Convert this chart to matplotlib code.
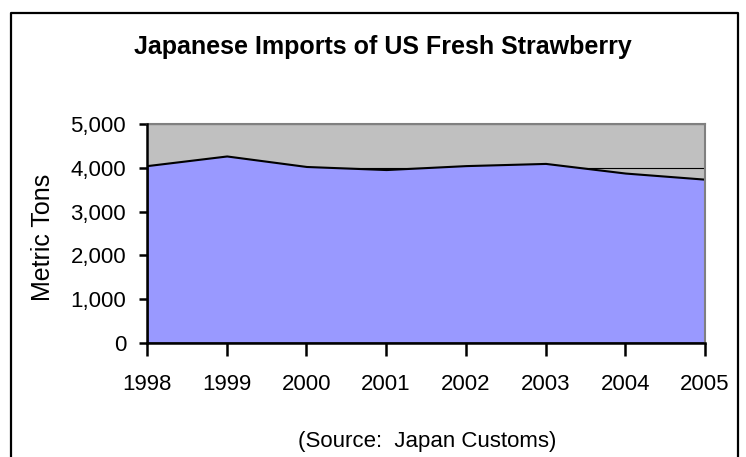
import matplotlib
matplotlib.use("Agg")
import matplotlib.pyplot as plt
from matplotlib.lines import Line2D
from matplotlib.ticker import FuncFormatter, MultipleLocator

years = [1998, 1999, 2000, 2001, 2002, 2003, 2004, 2005]
imports = [4050, 4270, 4030, 3960, 4050, 4100, 3880, 3740]
title = "Japanese Imports of US Fresh Strawberry"
ylabel = "Metric Tons"
source = "(Source:  Japan Customs)"

plt.rcParams['font.family'] = ['Liberation Sans', 'DejaVu Sans']

W, H = 746, 457
fig = plt.figure(figsize=(W / 100, H / 100), dpi=100)
fig.patch.set_facecolor('white')

ax = fig.add_axes([147 / W, 1 - 343 / H, (705 - 147) / W, (343 - 124) / H])
ax.set_facecolor('#C0C0C0')

ax.fill_between(years, imports, 0, facecolor='#9999FF', edgecolor='black',
                linewidth=1.5, zorder=2)
ax.set_xlim(years[0], years[-1])
ax.set_ylim(0, 5000)
ax.yaxis.set_major_locator(MultipleLocator(1000))
ax.yaxis.set_major_formatter(FuncFormatter(lambda v, p: f"{int(v):,}"))
ax.set_xticks(years)
ax.set_xticklabels([str(y) for y in years])
ax.grid(axis='y', color='black', linewidth=0.8, zorder=1)
ax.set_axisbelow(True)

for s in ['left', 'bottom']:
    ax.spines[s].set_color('black')
    ax.spines[s].set_linewidth(1.8)
    ax.spines[s].set_zorder(5)
for s in ['top', 'right']:
    ax.spines[s].set_color('#808080')
    ax.spines[s].set_linewidth(1.5)

ax.tick_params(axis='x', direction='out', length=9, width=1.8, labelsize=16, pad=13)
ax.tick_params(axis='y', direction='out', length=6, width=1.8, labelsize=16, pad=9)

fig.text(43 / W, 1 - 237 / H, ylabel, rotation=90, ha='center', va='center',
         fontsize=18)
fig.text(383 / W, 1 - 54 / H, title, ha='center', va='baseline',
         fontsize=18, fontweight='bold')
fig.text(427 / W, 1 - 447 / H, source, ha='center', va='baseline', fontsize=16)

# chart border (left, top, right)
bx0, bx1, by0 = 11 / W, 738 / W, 1 - 13 / H
fig.add_artist(Line2D([bx0, bx0, bx1, bx1], [0, by0, by0, 0],
                      transform=fig.transFigure, color='black', linewidth=1.6))

fig.savefig("out.png", dpi=100)
